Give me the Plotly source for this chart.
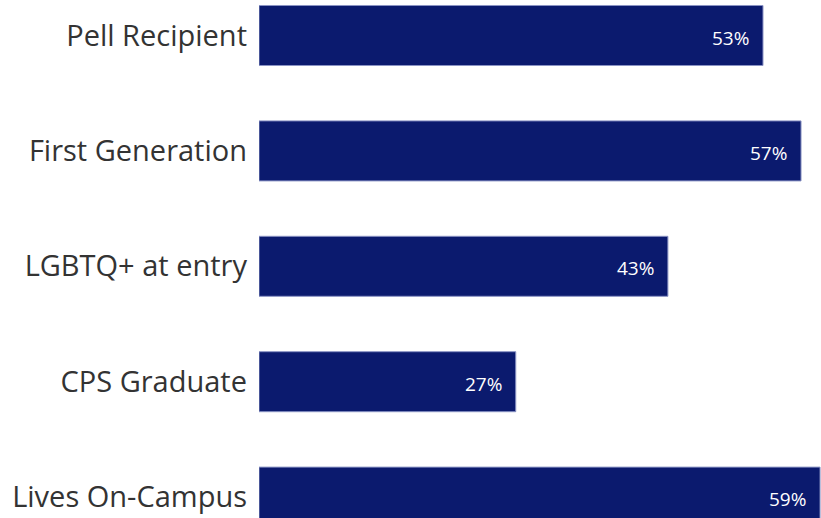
import plotly.graph_objects as go

# Share of students in each group
categories = ["Pell Recipient", "First Generation", "LGBTQ+ at entry", "CPS Graduate", "Lives On-Campus"]
values = [53, 57, 43, 27, 59]
value_labels = [f"{v}%" for v in values]

BAR_COLOR = "#0B1A6E"
LABEL_COLOR = "#333333"

fig = go.Figure(
    go.Bar(
        x=values,
        y=categories,
        orientation="h",
        marker=dict(color=BAR_COLOR, line=dict(color="#8a93c4", width=1)),
        hoverinfo="skip",
    )
)

# Percent labels sit just inside the end of each bar
for cat, v, lab in zip(categories, values, value_labels):
    fig.add_annotation(
        x=v, y=cat, text=lab, showarrow=False,
        xanchor="right", yanchor="middle", xshift=-12, yshift=-2,
        font=dict(family="Open Sans", size=19, color="white"),
    )

fig.update_layout(
    width=821, height=518,
    margin=dict(l=259, r=0, t=0, b=0),
    paper_bgcolor="white", plot_bgcolor="white",
    bargap=0.48,
    showlegend=False,
    xaxis=dict(range=[0, 59.1], visible=False, fixedrange=True),
    yaxis=dict(
        categoryorder="array", categoryarray=categories,
        range=[4.181, -0.3076],
        showgrid=False, zeroline=False, showline=False, ticks="",
        ticklabelstandoff=11,
        tickfont=dict(family="Open Sans", size=29, color=LABEL_COLOR),
        fixedrange=True,
    ),
)

fig.write_html("out.html")
